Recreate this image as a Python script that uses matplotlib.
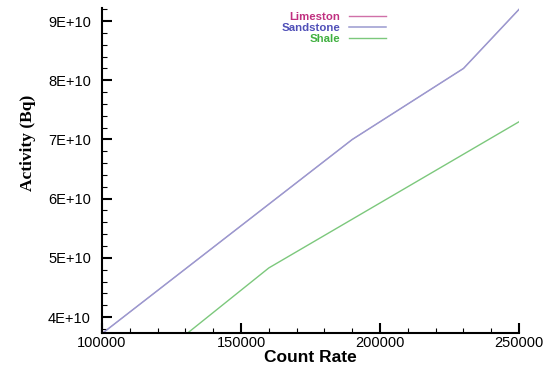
import matplotlib
matplotlib.use("Agg")
import matplotlib.pyplot as plt
from matplotlib.ticker import MultipleLocator, FuncFormatter

# data
count_rate_sand = [100000, 190000, 230000, 250000]
activity_sand = [3.72e10, 7.0e10, 8.2e10, 9.2e10]
count_rate_lime = [100000, 190000, 230000, 250000]
activity_lime = [3.72e10, 7.0e10, 8.2e10, 9.2e10]
count_rate_shale = [130000, 160000, 250000]
activity_shale = [3.7e10, 4.83e10, 7.3e10]

fig = plt.figure(figsize=(5.47, 3.67), dpi=100)
ax = fig.add_axes([0.1865, 0.0926, 0.7625, 0.8854])

ax.plot(count_rate_lime, activity_lime, color="#d070a8", lw=0.6, label="Limeston")
ax.plot(count_rate_sand, activity_sand, color="#9a9ad0", lw=1.1, label="Sandstone")
ax.plot(count_rate_shale, activity_shale, color="#7cc87c", lw=1.0, label="Shale")

ax.set_xlim(100000, 250000)
ax.set_ylim(3.73e10, 9.22e10)

ax.xaxis.set_major_locator(MultipleLocator(50000))
ax.xaxis.set_minor_locator(MultipleLocator(10000))
ax.yaxis.set_major_locator(MultipleLocator(1e10))
ax.yaxis.set_minor_locator(MultipleLocator(2e9))
ax.yaxis.set_major_formatter(FuncFormatter(lambda v, p: "%dE+10" % round(v / 1e10)))
ax.xaxis.set_major_formatter(FuncFormatter(lambda v, p: "%d" % v))

for s in ["top", "right"]:
    ax.spines[s].set_visible(False)
for s in ["left", "bottom"]:
    ax.spines[s].set_linewidth(1.5)

ax.tick_params(which="major", direction="in", length=7, width=1.5,
               labelsize=10.5)
ax.tick_params(which="minor", direction="in", length=3.5, width=0.8)
for lab in ax.get_xticklabels() + ax.get_yticklabels():
    lab.set_family("Liberation Sans")
ax.tick_params(axis="x", pad=2)
ax.tick_params(axis="y", pad=8)

ax.set_xlabel("Count Rate", fontsize=12.5, fontweight="bold",
              family="Liberation Sans", labelpad=0)
ax.set_ylabel("Activity (Bq)", fontsize=12.5, fontweight="bold",
              family="Liberation Serif")
ax.yaxis.set_label_coords(-0.158, 0.585)

leg = ax.legend(loc="upper center", bbox_to_anchor=(0.555, 1.02), frameon=False,
                markerfirst=False, handlelength=3.2,
                labelspacing=0.1, handletextpad=0.8,
                prop={"family": "Liberation Sans", "weight": "bold", "size": 8.2})
for txt, c in zip(leg.get_texts(), ["#c03080", "#5050b8", "#40b040"]):
    txt.set_color(c)
leg.get_lines()[0].set_color("#d070a8")
leg.get_lines()[0].set_linewidth(1.0)

fig.savefig("out.png", dpi=100)
